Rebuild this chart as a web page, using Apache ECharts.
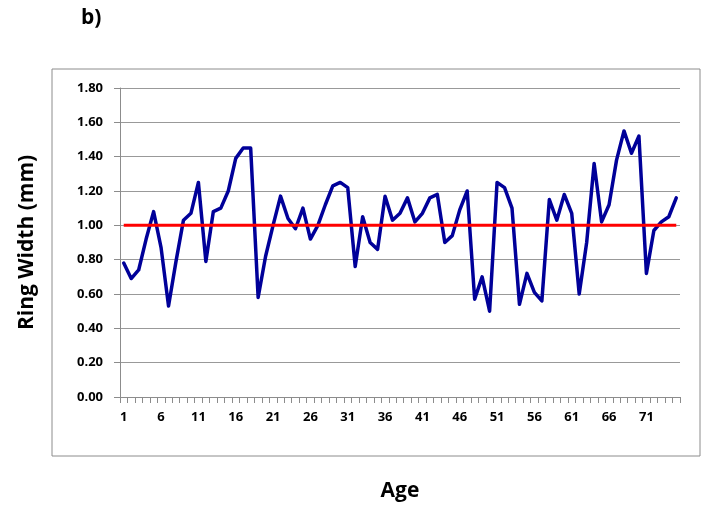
<!DOCTYPE html>
<html>
<head>
<meta charset="utf-8">
<script src="https://cdn.jsdelivr.net/npm/echarts@6/dist/echarts.min.js"></script>
<style>
  html, body { margin: 0; padding: 0; background: #fff; }
  #chart { width: 706px; height: 508px; }
</style>
</head>
<body>
<div id="chart"></div>
<script>
// Tree-ring widths by cambial age (years 1..75)
const ages = Array.from({ length: 75 }, (_, i) => String(i + 1));
const ringWidth = [
  0.78, 0.69, 0.74, 0.92, 1.08, 0.87, 0.53, 0.79, 1.03, 1.07,
  1.25, 0.79, 1.08, 1.10, 1.20, 1.39, 1.45, 1.45, 0.58, 0.82,
  1.00, 1.17, 1.04, 0.98, 1.10, 0.92, 1.00, 1.12, 1.23, 1.25,
  1.22, 0.76, 1.05, 0.90, 0.86, 1.17, 1.03, 1.07, 1.16, 1.02,
  1.07, 1.16, 1.18, 0.90, 0.94, 1.09, 1.20, 0.57, 0.70, 0.50,
  1.25, 1.22, 1.10, 0.54, 0.72, 0.61, 0.56, 1.15, 1.03, 1.18,
  1.07, 0.60, 0.90, 1.36, 1.02, 1.12, 1.38, 1.55, 1.42, 1.52,
  0.72, 0.97, 1.02, 1.05, 1.16
];
const meanLevel = 1.0;
const yTicks = { min: 0, max: 1.8, step: 0.2 };

const FONT = '"Open Sans", "Liberation Sans", sans-serif';
const chart = echarts.init(document.getElementById('chart'), null, { renderer: 'canvas' });

chart.setOption({
  animation: false,
  backgroundColor: '#ffffff',
  graphic: [
    {
      type: 'rect',
      shape: { x: 52, y: 69, width: 648, height: 387 },
      style: { fill: 'none', stroke: '#8c8c8c', lineWidth: 1 },
      z: -1
    },
    {
      type: 'text',
      left: 81, top: 8,
      style: { text: 'b)', font: 'bold 21px ' + FONT, fill: '#000' }
    }
  ],
  grid: { left: 120, right: 26, top: 88, bottom: 111, containLabel: false },
  xAxis: {
    type: 'category',
    data: ages,
    boundaryGap: true,
    name: 'Age',
    nameLocation: 'middle',
    nameGap: 84,
    nameTextStyle: { fontFamily: FONT, fontWeight: 'bold', fontSize: 21, color: '#000' },
    axisLine: { show: true, lineStyle: { color: '#8c8c8c', width: 1 } },
    axisTick: { show: true, interval: 0, length: 6, lineStyle: { color: '#8c8c8c' } },
    axisLabel: {
      interval: 4,
      margin: 14,
      fontFamily: FONT, fontWeight: 'bold', fontSize: 13, color: '#000'
    },
    splitLine: { show: false }
  },
  yAxis: {
    type: 'value',
    min: yTicks.min,
    max: yTicks.max,
    interval: yTicks.step,
    name: 'Ring Width (mm)',
    nameLocation: 'middle',
    nameGap: 82,
    nameRotate: 90,
    nameTextStyle: { fontFamily: FONT, fontWeight: 'bold', fontSize: 21, color: '#000' },
    axisLine: { show: true, lineStyle: { color: '#8c8c8c', width: 1 } },
    axisTick: { show: true, inside: false, length: 6, lineStyle: { color: '#8c8c8c' } },
    axisLabel: {
      margin: 17,
      formatter: v => v.toFixed(2),
      fontFamily: FONT, fontWeight: 'bold', fontSize: 13, color: '#000'
    },
    splitLine: { show: true, lineStyle: { color: '#999999', width: 1 } }
  },
  series: [
    {
      name: 'Ring width',
      type: 'line',
      data: ringWidth,
      symbol: 'none',
      lineStyle: { color: '#000099', width: 3.5, join: 'round', cap: 'round' },
      z: 2
    },
    {
      name: 'Mean',
      type: 'line',
      data: ages.map(() => meanLevel),
      symbol: 'none',
      lineStyle: { color: '#ff0000', width: 3 },
      z: 3
    }
  ]
});
</script>
</body>
</html>
